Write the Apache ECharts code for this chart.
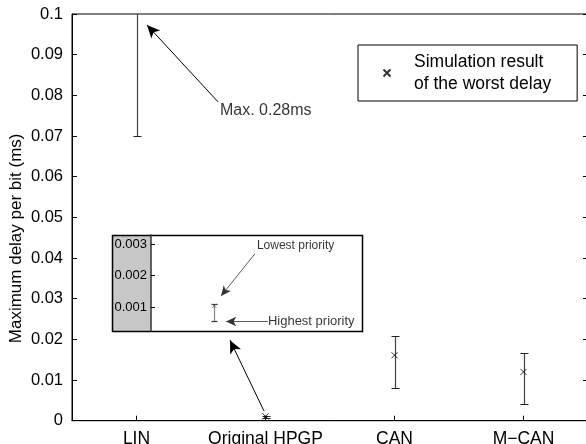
<!DOCTYPE html>
<html>
<head>
<meta charset="utf-8">
<script src="https://cdn.jsdelivr.net/npm/echarts@6/dist/echarts.min.js"></script>
<style>
  html, body { margin: 0; padding: 0; background: #fff; }
  #chart { width: 586px; height: 444px; }
</style>
</head>
<body>
<div id="chart"></div>
<script>
// Network categories and their positions on the x axis
const categories = ['LIN', 'Original HPGP', 'CAN', 'M\u2212CAN'];
const categoryPos = [1, 2, 3, 4];

// Analytical delay bounds per bit (ms): lower / upper end of each bar
const delayLow  = [0.07, 0.00057, 0.0081, 0.0041];
const delayHigh = [0.28, 0.0011, 0.0209, 0.0166];
// Simulated worst-case delay (ms)
const worstDelay = [null, 0.00105, 0.0161, 0.0120];

// Axis ticks
const yTicks = [0, 0.01, 0.02, 0.03, 0.04, 0.05, 0.06, 0.07, 0.08, 0.09, 0.1];
const insetTicks = [0.001, 0.002, 0.003];

// Annotation anchors, in data units [x, y]
const maxArrow   = [[1.632, 0.0784], [1.081, 0.0973]];
const maxText    = [1.647, 0.0762];
const zoomArrow  = [[1.988, 0.0024], [1.725, 0.0198]];
const lowArrow   = [[2.096, 0.00269], [2.016, 0.00136]];
const lowText    = [2.101, 0.00294];
const highArrow  = [[2.127, 0.00055], [2.028, 0.00055]];
const highText   = [2.127, 0.00054];

const FONT = '"Liberation Sans", Arial, Helvetica, sans-serif';
const legendName = 'Simulation result\nof the worst delay';
const crossSymbol = 'path://M0,0L10,10M10,0L0,10';

// inset frame layout
const inset = { left: 151, top: 235, width: 211, height: 96, labelPad: 39 };

const barData = categoryPos.map((x, i) => [x, delayLow[i], delayHigh[i]]);
const worstData = categoryPos.map((x, i) => worstDelay[i] == null ? null : [x, worstDelay[i]]).filter(Boolean);
const hpgpIdx = 1;

function errorBar(capHalf, stemColor, capColor) {
  return function (params, api) {
    const x = api.value(0);
    const lo = api.coord([x, api.value(1)]);
    const hi = api.coord([x, api.value(2)]);
    const px = Math.round(lo[0]) + 0.5;
    const yl = Math.round(lo[1]) + 0.5;
    const yh = Math.round(hi[1]) + 0.5;
    return {
      type: 'group',
      children: [
        { type: 'line', shape: { x1: px, y1: yl, x2: px, y2: yh }, style: { stroke: stemColor, lineWidth: 1.2 } },
        { type: 'line', shape: { x1: px - capHalf, y1: yl, x2: px + capHalf, y2: yl }, style: { stroke: capColor, lineWidth: 1.2 } },
        { type: 'line', shape: { x1: px - capHalf, y1: yh, x2: px + capHalf, y2: yh }, style: { stroke: capColor, lineWidth: 1.2 } }
      ]
    };
  };
}

function arrowLine(pts, size) {
  return [{ coord: pts[0], symbol: 'none' }, { coord: pts[1], symbol: 'arrow', symbolSize: size }];
}

function textPoint(pos, text, size) {
  return {
    value: pos,
    label: { show: true, formatter: text, position: 'right', distance: 0, color: '#000', fontSize: size, fontFamily: FONT }
  };
}

const chart = echarts.init(document.getElementById('chart'), null, { renderer: 'canvas' });

chart.setOption({
  animation: false,
  backgroundColor: '#fff',
  textStyle: { fontFamily: FONT },
  grid: [
    { left: 72, top: 14, width: 516, height: 406.7, show: true, borderColor: '#000', borderWidth: 1,
      containLabel: false, outerBoundsMode: 'none' },
    { left: inset.left, top: inset.top, width: inset.width, height: inset.height, show: false,
      containLabel: false, outerBoundsMode: 'none' }
  ],
  legend: {
    data: [legendName],
    left: 358, top: 45,
    orient: 'vertical',
    itemWidth: 44, itemHeight: 7,
    padding: [6, 26, 6, 24.5],
    borderColor: '#000', borderWidth: 1,
    backgroundColor: '#fff',
    selectedMode: false,
    textStyle: { fontSize: 17.5, lineHeight: 22, color: '#000', fontFamily: FONT }
  },
  xAxis: [
    {
      gridIndex: 0, type: 'value', min: 0.5, max: 4.5,
      axisLine: { show: true, lineStyle: { color: '#000', width: 1 } },
      axisTick: { show: true, inside: true, length: 5, customValues: categoryPos, lineStyle: { color: '#000' } },
      axisLabel: {
        customValues: categoryPos, margin: 9, fontSize: 17.5, color: '#000', fontFamily: FONT,
        formatter: v => categories[Math.round(v) - 1]
      },
      splitLine: { show: false }
    },
    {
      gridIndex: 1, type: 'value', min: 1.85, max: 2.35, show: false
    }
  ],
  yAxis: [
    {
      gridIndex: 0, type: 'value', min: 0, max: 0.1, interval: 0.01,
      name: 'Maximum delay per bit (ms)', nameLocation: 'middle', nameGap: 47, nameMoveOverlap: false,
      nameTextStyle: { fontSize: 17, color: '#000', fontFamily: FONT, padding: [0, 42, 0, 0] },
      axisLine: { show: true, lineStyle: { color: '#000', width: 1 } },
      axisTick: { show: true, inside: true, length: 5, lineStyle: { color: '#000' } },
      axisLabel: { margin: 9, fontSize: 16.5, color: '#000', fontFamily: FONT, formatter: v => String(+v.toFixed(3)) },
      splitLine: { show: false }
    },
    {
      gridIndex: 0, type: 'value', min: 0, max: 0.1, interval: 0.01, position: 'right',
      axisLine: { show: true, lineStyle: { color: '#000' } },
      axisTick: { show: true, inside: true, length: 5, lineStyle: { color: '#000' } },
      axisLabel: { show: false },
      splitLine: { show: false }
    },
    {
      gridIndex: 1, type: 'value', min: 0.00025, max: 0.00329, z: 10,
      axisLine: { show: true, lineStyle: { color: '#333', width: 1.5 } },
      axisTick: { show: true, inside: true, length: 4, customValues: insetTicks, lineStyle: { color: '#000' } },
      axisLabel: { customValues: insetTicks, margin: 4, fontSize: 13, color: '#000', fontFamily: FONT, formatter: v => v.toFixed(3) },
      splitLine: { show: false }
    }
  ],
  graphic: [
    {
      type: 'rect', z: 1,
      shape: { x: inset.left - inset.labelPad, y: inset.top, width: inset.labelPad, height: inset.height },
      style: { fill: '#c8c8c8', stroke: null }
    },
    {
      type: 'rect', z: 1,
      shape: { x: inset.left - inset.labelPad + 0.5, y: inset.top + 0.5, width: inset.width + inset.labelPad, height: inset.height },
      style: { fill: 'none', stroke: '#000', lineWidth: 1.5 }
    }
  ],
  series: [
    {
      type: 'custom', name: 'bounds', xAxisIndex: 0, yAxisIndex: 0, clip: true,
      renderItem: errorBar(4, '#444', '#222'),
      encode: { x: 0, y: [1, 2] },
      data: barData,
      z: 3
    },
    {
      type: 'scatter', name: legendName, xAxisIndex: 0, yAxisIndex: 0,
      symbol: crossSymbol, symbolSize: 6,
      itemStyle: { color: 'transparent', borderColor: '#000', borderWidth: 1 },
      data: worstData,
      z: 4
    },
    {
      type: 'custom', name: 'insetBounds', xAxisIndex: 1, yAxisIndex: 2, clip: true,
      renderItem: errorBar(3, '#888', '#333'),
      encode: { x: 0, y: [1, 2] },
      data: [barData[hpgpIdx]],
      z: 12
    },
    {
      type: 'scatter', name: 'insetWorst', xAxisIndex: 1, yAxisIndex: 2,
      symbol: crossSymbol, symbolSize: 4,
      itemStyle: { color: 'transparent', borderColor: '#555', borderWidth: 1 },
      data: [worstData[0]],
      z: 12
    },
    {
      type: 'scatter', name: 'notes', xAxisIndex: 0, yAxisIndex: 0, symbolSize: 0, silent: true,
      data: [textPoint(maxText, 'Max. 0.28ms', 16)],
      markLine: {
        silent: true, animation: false, precision: 6,
        lineStyle: { color: '#000', width: 1, type: 'solid' },
        label: { show: false },
        emphasis: { disabled: true },
        data: [arrowLine(maxArrow, [9, 13]), arrowLine(zoomArrow, [9, 13])]
      },
      z: 5
    },
    {
      type: 'scatter', name: 'insetNotes', xAxisIndex: 1, yAxisIndex: 2, symbolSize: 0, silent: true,
      data: [textPoint(lowText, 'Lowest priority', 12), textPoint(highText, 'Highest priority', 13)],
      markLine: {
        silent: true, animation: false, precision: 8,
        lineStyle: { color: '#333', width: 0.8, type: 'solid' },
        label: { show: false },
        emphasis: { disabled: true },
        data: [arrowLine(lowArrow, [7, 10]), arrowLine(highArrow, [7, 10])]
      },
      z: 12
    }
  ]
});
</script>
</body>
</html>
